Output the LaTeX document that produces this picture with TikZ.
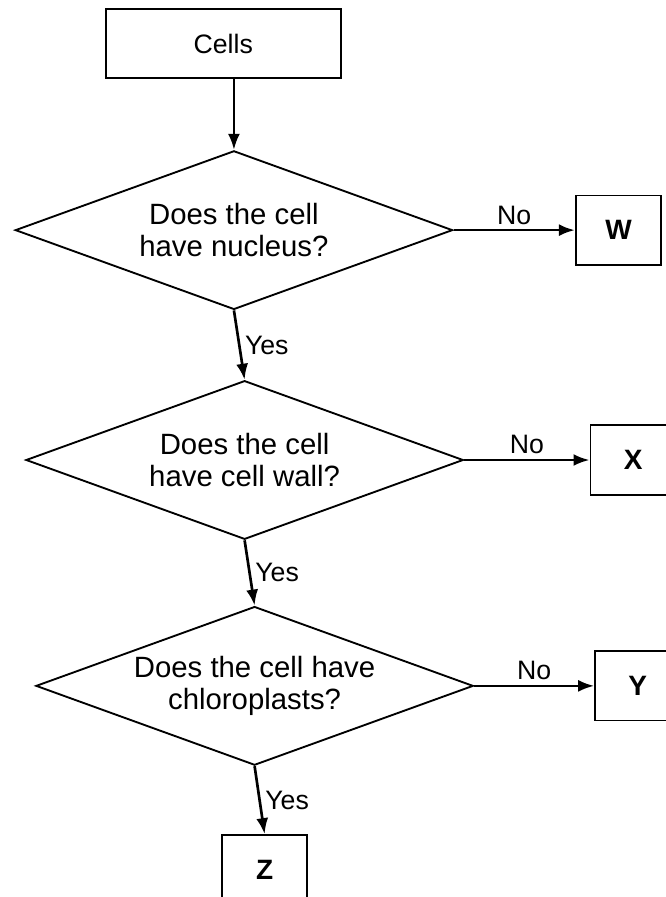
\documentclass[tikz,border=0pt]{standalone}
\usepackage{fontspec}
\setmainfont{Liberation Sans}
\usetikzlibrary{positioning, arrows.meta, shapes.geometric}

\begin{document}
\begin{tikzpicture}[node distance=52pt and 92pt, every node/.style={font=\fontsize{20}{23}\selectfont}, box/.style={draw, line width=1.4pt, align=center, minimum width=176pt, minimum height=52pt}, question/.style={diamond, draw, line width=1.4pt, align=center, aspect=2.75, inner sep=0pt, minimum width=328pt, minimum height=119pt, font=\fontsize{22}{23.5}\selectfont}, outcome/.style={draw, line width=1.4pt, minimum width=64pt, minimum height=52pt, font=\fontsize{21}{23}\selectfont\bfseries}, arrow/.style={-{Latex[length=12pt, width=9pt]}, line width=2pt}]
      \useasboundingbox (0,0) rectangle (499.5pt,-672.75pt);
      \node[box, anchor=north west] (cells) at (78.75pt,-6pt) {Cells};
      \node[question, below=53pt of cells, xshift=8pt] (nucleus) {Does the cell\\have nucleus?};
      \node[question, below=of nucleus, xshift=8pt] (wall) {Does the cell\\have cell wall?};
      \node[question, below=49pt of wall, xshift=7.5pt] (chloro) {Does the cell have\\chloroplasts?};
      \node[outcome, right=91pt of nucleus] (resW) {W}; \node[outcome, right=94pt of wall] (resX) {X};
      \node[outcome, right=90pt of chloro] (resY) {Y}; \node[outcome, below=51pt of chloro, xshift=7.5pt] (resZ) {Z};

      \draw[arrow] (cells.south -| nucleus.north) -- (nucleus.north); \draw[arrow] (nucleus.east) -- node[above] {No} (resW.west);
      \draw[arrow] (nucleus.south) -- node[right] {Yes} (wall.north); \draw[arrow] (wall.east) -- node[above] {No} (resX.west);
      \draw[arrow] (wall.south) -- node[right] {Yes} (chloro.north); \draw[arrow] (chloro.east) -- node[above] {No} (resY.west);
      \draw[arrow] (chloro.south) -- node[right] {Yes} (resZ.north);
    \end{tikzpicture}
\end{document}
